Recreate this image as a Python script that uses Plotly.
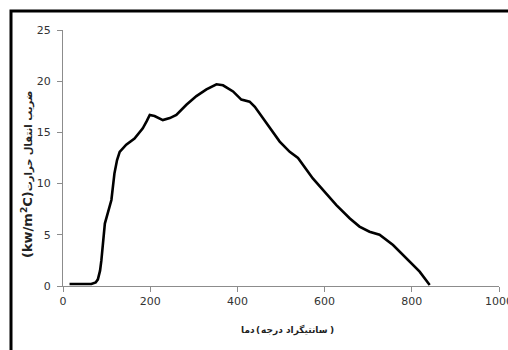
import plotly.graph_objects as go

# Data
temperature = [15, 40, 65, 75, 80, 85, 88, 96, 103, 111, 118, 124, 130, 145, 164, 183, 192, 199, 210, 229, 245, 260, 283, 306, 329, 352, 367, 390, 409, 428, 440, 466, 497, 520, 539, 573, 604, 627, 658, 680, 703, 726, 757, 788, 818, 841]
heat_coeff = [0.2, 0.2, 0.2, 0.35, 0.65, 1.5, 2.5, 6.1, 7.1, 8.4, 11.0, 12.3, 13.1, 13.8, 14.4, 15.4, 16.1, 16.7, 16.6, 16.2, 16.4, 16.7, 17.7, 18.55, 19.2, 19.7, 19.6, 19.0, 18.2, 18.0, 17.5, 15.9, 14.1, 13.1, 12.5, 10.5, 9.05, 7.9, 6.6, 5.8, 5.3, 5.0, 4.0, 2.7, 1.4, 0.1]

x_ticks = [0, 200, 400, 600, 800, 1000]
y_ticks = [0, 5, 10, 15, 20, 25]

# x title pieces, laid out left-to-right as in the reference
x_title_parts = ["دما", "(", "درجه", "سانتیگراد", ")"]
y_title_unit = "(kw/m<sup>2</sup>C)"
y_title_text = "ضریب انتقال حرارت"

W, H = 508, 350
L, R, T, B = 63, 9, 30, 64
pw, ph = W - L - R, H - T - B

def px_x(p):
    return (p - L) / pw

def px_y(p):
    return (H - B - p) / ph

fig = go.Figure()
fig.add_trace(go.Scatter(
    x=temperature, y=heat_coeff, mode="lines",
    line=dict(color="black", width=2.6),
    hoverinfo="skip", showlegend=False,
))

axis_font = dict(family="DejaVu Sans", size=11, color="#333333")
title_font = dict(family="DejaVu Sans", size=9, color="#222222")

# (x pixel, anchor) of each x-title piece
x_title_pos = [(256, "right"), (258, "center"), (260, "left"), (329, "right"), (329, "left")]

annotations = []
for part, (xp, anc) in zip(x_title_parts, x_title_pos):
    annotations.append(dict(
        text="<b>" + part + "</b>", xref="paper", yref="paper",
        x=px_x(xp), y=px_y(330), showarrow=False, font=title_font, borderpad=0,
        xanchor=anc, yanchor="middle"))

annotations.append(dict(
    text="<b><span style='font-size:13px'>" + y_title_unit + "</span>" + y_title_text + "</b>",
    xref="paper", yref="paper",
    x=px_x(27), y=px_y(175), showarrow=False, textangle=-90,
    font=dict(family="DejaVu Sans", size=10, color="#222222"),
    xanchor="center", yanchor="middle"))

fig.update_layout(
    width=W, height=H,
    margin=dict(l=L, r=R, t=T, b=B, autoexpand=False),
    paper_bgcolor="white", plot_bgcolor="white",
    template="none",
    showlegend=False,
    xaxis=dict(
        range=[0, 1000], tickvals=x_ticks, ticktext=[str(v) for v in x_ticks],
        showgrid=False, zeroline=False, showline=True, linecolor="#8c8c8c", linewidth=1,
        ticks="outside", ticklen=5, tickcolor="#8c8c8c", tickfont=axis_font,
        ticklabeloverflow="allow",
        automargin=False,
    ),
    yaxis=dict(
        range=[0, 25], tickvals=y_ticks, ticktext=[str(v) for v in y_ticks],
        showgrid=False, zeroline=False, showline=True, linecolor="#8c8c8c", linewidth=1,
        ticks="outside", ticklen=5, tickcolor="#8c8c8c", tickfont=axis_font,
        ticklabelstandoff=4, ticklabeloverflow="allow",
        automargin=False,
    ),
    annotations=annotations,
    shapes=[
        dict(type="rect", xref="paper", yref="paper",
             x0=px_x(11), x1=px_x(520), y0=px_y(370), y1=px_y(11),
             line=dict(color="black", width=3), fillcolor="rgba(0,0,0,0)", layer="above"),
    ],
)

fig.write_html("out.html")
